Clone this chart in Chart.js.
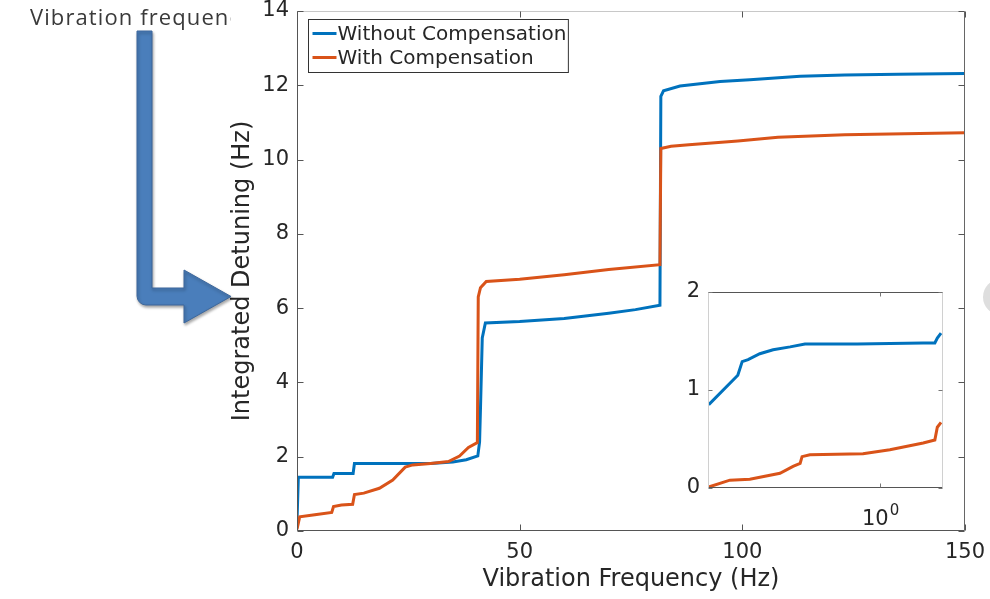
<!DOCTYPE html>
<html>
<head>
<meta charset="utf-8">
<title>Integrated Detuning</title>
<script src="https://cdn.jsdelivr.net/npm/chart.js@4.4.1/dist/chart.umd.min.js"></script>
<style>
  html, body { margin: 0; padding: 0; background: #fff; }
  #wrap { position: relative; width: 990px; height: 599px; overflow: hidden; }
  #mainChart { position: absolute; left: 0; top: 0; }
  #insetChart { position: absolute; left: 660px; top: 280px; }
</style>
</head>
<body>
<div id="wrap">
  <canvas id="mainChart" width="990" height="599"></canvas>
  <canvas id="insetChart" width="300" height="260"></canvas>
</div>
<script>
// series names
const seriesLabels = ['Without Compensation', 'With Compensation'];

// main plot: frequency (Hz) vs integrated detuning (Hz)
const blueFreq = [0, 0.3, 8, 8.3, 12.6, 12.9, 30, 35, 38, 40.6, 41.0, 41.2, 41.6, 42.3, 50, 60, 70, 76, 81.5, 81.7, 82.3, 86, 95, 101.7, 113, 123, 135, 150];
const blueDet  = [0.25, 1.45, 1.45, 1.55, 1.55, 1.82, 1.82, 1.86, 1.92, 2.02, 2.4, 3.3, 5.2, 5.6, 5.64, 5.72, 5.86, 5.96, 6.08, 11.7, 11.85, 11.98, 12.1, 12.15, 12.24, 12.28, 12.3, 12.32];

const orangeFreq = [0, 0.6, 4, 7.8, 8.2, 10, 12.5, 12.9, 15, 18.5, 21.5, 24.3, 26, 30, 34, 36.5, 38.5, 40.5, 40.7, 41.2, 42.5, 50, 60, 70, 81.5, 81.7, 84, 88, 99, 108, 123, 150];
const orangeDet  = [0.05, 0.38, 0.44, 0.5, 0.66, 0.7, 0.72, 0.98, 1.02, 1.15, 1.37, 1.72, 1.78, 1.82, 1.87, 2.02, 2.25, 2.38, 6.3, 6.55, 6.72, 6.78, 6.9, 7.04, 7.17, 10.3, 10.36, 10.4, 10.5, 10.6, 10.67, 10.72];

// inset: low-frequency detail on a log axis
const insetBlueFreq = [0.101, 0.149, 0.158, 0.171, 0.2, 0.239, 0.3, 0.366, 0.735, 1.78, 2.08, 2.15, 2.26];
const insetBlueDet  = [0.85, 1.15, 1.29, 1.31, 1.37, 1.41, 1.44, 1.47, 1.47, 1.48, 1.48, 1.53, 1.58];
const insetOrangeFreq = [0.101, 0.134, 0.175, 0.262, 0.312, 0.343, 0.352, 0.391, 0.795, 1.14, 1.78, 2.08, 2.15, 2.26];
const insetOrangeDet  = [0.01, 0.08, 0.09, 0.15, 0.22, 0.25, 0.32, 0.34, 0.35, 0.39, 0.46, 0.49, 0.62, 0.67];

const blue = '#0072BD';
const orange = '#D95319';
const textColor = '#262626';
const fontFamily = "'DejaVu Sans', sans-serif";

function toPoints(xs, ys) {
  return xs.map((x, i) => ({ x: x, y: ys[i] }));
}

// keep the plot box where the fixed axis sizes put it
function noEdgePadding(s) {
  s.paddingLeft = 0; s.paddingRight = 0; s.paddingTop = 0; s.paddingBottom = 0;
}

// box around the axes with inward tick marks on all four sides
function framePlugin(cfg) {
  return {
    id: 'frame',
    beforeDraw(chart) {
      if (!cfg.fill) return;
      const { ctx, chartArea: a } = chart;
      ctx.save();
      ctx.fillStyle = cfg.fill;
      ctx.fillRect(a.left, a.top, a.right - a.left, a.bottom - a.top);
      ctx.restore();
    },
    afterDraw(chart) {
      const { ctx, chartArea: a, scales } = chart;
      const L = Math.round(a.left) + 0.5, R = Math.round(a.right) - 0.5;
      const T = Math.round(a.top) + 0.5, B = Math.round(a.bottom) - 0.5;
      const len = cfg.tickLen;
      ctx.save();
      ctx.lineWidth = 1;
      const line = (color, x1, y1, x2, y2) => {
        ctx.strokeStyle = color;
        ctx.beginPath(); ctx.moveTo(x1, y1); ctx.lineTo(x2, y2); ctx.stroke();
      };
      line(cfg.top, L, T, R, T);
      line(cfg.bottom, L, B, R, B);
      line(cfg.left, L, T, L, B);
      line(cfg.right, R, T, R, B);
      ctx.strokeStyle = cfg.tick;
      ctx.beginPath();
      scales.x.ticks.forEach(t => {
        const px = Math.round(scales.x.getPixelForValue(t.value)) + 0.5;
        ctx.moveTo(px, B); ctx.lineTo(px, B - len);
        ctx.moveTo(px, T); ctx.lineTo(px, T + len);
      });
      scales.y.ticks.forEach(t => {
        const py = Math.round(scales.y.getPixelForValue(t.value)) + 0.5;
        ctx.moveTo(L, py); ctx.lineTo(L + len, py);
        ctx.moveTo(R, py); ctx.lineTo(R - len, py);
      });
      ctx.stroke();

      // power-of-ten labels for a log x axis, e.g. 10 with a raised exponent
      if (cfg.powerLabels) {
        ctx.fillStyle = textColor;
        ctx.textBaseline = 'alphabetic';
        scales.x.ticks.forEach(t => {
          const px = scales.x.getPixelForValue(t.value);
          const exp = String(Math.round(Math.log10(t.value)));
          ctx.font = "21px " + fontFamily;
          const wb = ctx.measureText('10').width;
          ctx.font = "15px " + fontFamily;
          const we = ctx.measureText(exp).width;
          const x0 = px - (wb + we) / 2;
          const base = a.bottom + 37;
          ctx.font = "21px " + fontFamily;
          ctx.fillText('10', x0, base);
          ctx.font = "15px " + fontFamily;
          ctx.fillText(exp, x0 + wb + 1, base - 10);
        });
      }
      ctx.restore();
    }
  };
}

// boxed legend in the upper-left corner of the axes
const boxLegend = {
  id: 'boxLegend',
  afterDraw(chart) {
    const { ctx, chartArea: a } = chart;
    const sets = chart.data.datasets;
    const rowH = 24, sample = 24;
    ctx.save();
    ctx.font = "20px " + fontFamily;
    const textW = Math.max(...sets.map(d => ctx.measureText(d.label).width));
    const x0 = Math.round(a.left) + 11.5, y0 = Math.round(a.top) + 8.5;
    const w = 4 + sample + 1 + textW + 2, h = rowH * sets.length + 5;
    ctx.fillStyle = '#fff';
    ctx.fillRect(x0, y0, w, h);
    ctx.strokeStyle = '#333';
    ctx.lineWidth = 1;
    ctx.strokeRect(x0, y0, w, h);
    sets.forEach((d, i) => {
      const cy = y0 + 14 + i * rowH;
      ctx.strokeStyle = d.borderColor;
      ctx.lineWidth = 3;
      ctx.beginPath();
      ctx.moveTo(x0 + 4, cy); ctx.lineTo(x0 + 4 + sample, cy);
      ctx.stroke();
      ctx.fillStyle = textColor;
      ctx.textBaseline = 'middle';
      ctx.fillText(d.label, x0 + 4 + sample + 1, cy + 1);
    });
    ctx.restore();
  }
};

// slide callout: caption and bent arrow pointing at the y-axis title
const callout = {
  id: 'callout',
  afterDraw(chart) {
    const { ctx } = chart;
    ctx.save();
    ctx.beginPath();
    ctx.rect(0, 0, 231, 40);
    ctx.clip();
    ctx.font = "22px 'Open Sans', sans-serif";
    ctx.letterSpacing = '1.1px';
    ctx.fillStyle = '#3a3a3a';
    ctx.textBaseline = 'alphabetic';
    ctx.fillText('Vibration frequency', 30, 25);
    ctx.restore();

    ctx.save();
    ctx.shadowColor = 'rgba(0,0,0,0.35)';
    ctx.shadowBlur = 3;
    ctx.shadowOffsetX = 1;
    ctx.shadowOffsetY = 2;
    ctx.fillStyle = '#4a7ebb';
    ctx.strokeStyle = '#3c679c';
    ctx.lineWidth = 1;
    ctx.beginPath();
    ctx.moveTo(137, 31);
    ctx.lineTo(152, 31);
    ctx.lineTo(152, 288);
    ctx.lineTo(184, 288);
    ctx.lineTo(184, 270);
    ctx.lineTo(231, 296.5);
    ctx.lineTo(184, 323);
    ctx.lineTo(184, 305);
    ctx.lineTo(146, 305);
    ctx.arcTo(137, 305, 137, 296, 9);
    ctx.closePath();
    ctx.fill();
    ctx.stroke();
    ctx.restore();

    ctx.save();
    ctx.fillStyle = '#dedede';
    ctx.beginPath();
    ctx.arc(1001, 297, 18, 0, Math.PI * 2);
    ctx.fill();
    ctx.restore();
  }
};

const lineSet = (label, xs, ys, color, order) => ({
  label: label,
  data: toPoints(xs, ys),
  borderColor: color,
  backgroundColor: color,
  borderWidth: 3,
  pointRadius: 0,
  tension: 0,
  fill: false,
  order: order
});

const mainChart = new Chart(document.getElementById('mainChart'), {
  type: 'line',
  data: {
    datasets: [
      lineSet(seriesLabels[0], blueFreq, blueDet, blue, 1),
      lineSet(seriesLabels[1], orangeFreq, orangeDet, orange, 0)
    ]
  },
  options: {
    responsive: false,
    animation: false,
    layout: { padding: { left: 230, right: 25, top: 11, bottom: 0 } },
    plugins: { legend: { display: false }, tooltip: { enabled: false } },
    scales: {
      x: {
        type: 'linear', min: 0, max: 150,
        afterFit: s => { s.height = 68; noEdgePadding(s); },
        grid: { display: false, drawTicks: false },
        border: { display: false },
        ticks: { stepSize: 50, maxRotation: 0, padding: 11, color: textColor, font: { family: fontFamily, size: 21, lineHeight: 1 } },
        title: { display: true, text: 'Vibration Frequency (Hz)', color: textColor, padding: { top: 0, bottom: 5 }, font: { family: fontFamily, size: 24 } }
      },
      y: {
        min: 0, max: 14,
        afterFit: s => { s.width = 67; noEdgePadding(s); },
        grid: { display: false, drawTicks: false },
        border: { display: false },
        ticks: { stepSize: 2, padding: 8, color: textColor, font: { family: fontFamily, size: 21, lineHeight: 1 } },
        title: { display: true, text: 'Integrated Detuning (Hz)', color: textColor, padding: { top: 0, bottom: 0 }, font: { family: fontFamily, size: 24, lineHeight: 1.1 } }
      }
    }
  },
  plugins: [framePlugin({ top: '#c8c8c8', bottom: '#555', left: '#555', right: '#666', tick: '#555', tickLen: 6 }), boxLegend, callout]
});

const insetChart = new Chart(document.getElementById('insetChart'), {
  type: 'line',
  data: {
    datasets: [
      lineSet(seriesLabels[0], insetBlueFreq, insetBlueDet, blue, 1),
      lineSet(seriesLabels[1], insetOrangeFreq, insetOrangeDet, orange, 0)
    ]
  },
  options: {
    responsive: false,
    animation: false,
    layout: { padding: { left: 0, right: 17, top: 12, bottom: 0 } },
    plugins: { legend: { display: false }, tooltip: { enabled: false } },
    scales: {
      x: {
        type: 'logarithmic', min: 0.1, max: 2.32,
        afterBuildTicks: s => { s.ticks = [{ value: 1 }]; },
        afterFit: s => { s.height = 52; noEdgePadding(s); },
        grid: { display: false, drawTicks: false },
        border: { display: false },
        ticks: { display: false }
      },
      y: {
        min: 0, max: 2,
        afterFit: s => { s.width = 48; noEdgePadding(s); },
        grid: { display: false, drawTicks: false },
        border: { display: false },
        ticks: { stepSize: 1, padding: 8, color: textColor, font: { family: fontFamily, size: 21, lineHeight: 1 } }
      }
    }
  },
  plugins: [framePlugin({ fill: '#fff', top: '#555', bottom: '#555', left: '#d0d0d0', right: '#d0d0d0', tick: '#777', tickLen: 4, powerLabels: true })]
});
</script>
</body>
</html>
